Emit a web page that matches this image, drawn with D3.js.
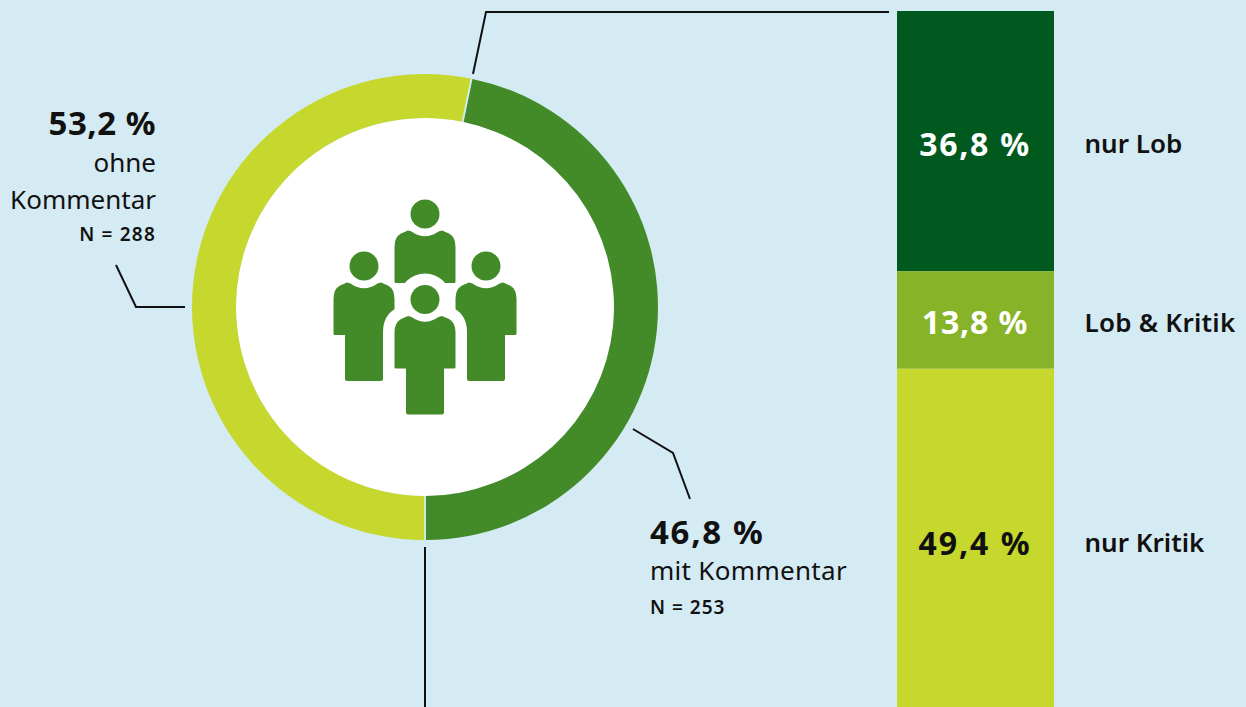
<!DOCTYPE html>
<html>
<head>
<meta charset="utf-8">
<script src="https://cdn.jsdelivr.net/npm/d3@7"></script>
<style>
  html, body { margin: 0; padding: 0; background: #d5ebf4; overflow: hidden; }
  svg { display: block; }
  text { font-family: "Noto Sans", sans-serif; fill: #111; }
</style>
</head>
<body>
<div class="chart"></div>
<script>
// ring: clockwise from the bottom
var ringKeys = ["ohne Kommentar", "mit Kommentar"];
var ringValues = [53.2, 46.8];
var ringCounts = [288, 253];

// stacked bar: top to bottom
var stackKeys = ["nur Lob", "Lob & Kritik", "nur Kritik"];
var stackValues = [36.8, 13.8, 49.4];

var svgWidth = 1246;
var svgHeight = 707;

var ringColors = ["#c6d72e", "#438b28"];
var stackColors = ["#005a20", "#86b327", "#c6d72e"];
var stackTextColors = ["#fff", "#fff", "#111"];
var lineColor = "#111";

var svg = d3.select(".chart")
    .append("svg")
    .attr("width", svgWidth)
    .attr("height", svgHeight);

var de = d3.formatLocale({ decimal: ",", thousands: ".", grouping: [3], currency: ["", " €"] });
var pct = function(v) { return de.format(".1f")(v) + " %"; };

// ---- ring
var cx = 425, cy = 307;

var ringGroup = svg.append("g")
    .attr("transform", `translate(${cx}, ${cy})`);

var pie = d3.pie()
    .sort(null)
    .startAngle(Math.PI)
    .endAngle(3 * Math.PI);

var arc = d3.arc()
    .innerRadius(189)
    .outerRadius(233)
    .padAngle(0.008)
    .padRadius(233);

ringGroup.append("circle")
    .attr("r", 189)
    .attr("fill", "#fff");

ringGroup.selectAll("path")
    .data(pie(ringValues))
    .enter()
    .append("path")
    .attr("d", arc)
    .attr("fill", (d, i) => ringColors[i]);

// ---- people icon, coordinates are relative to the head centre
var personPath = "M-13.5,17.5 Q0,27 13.5,17.5 L17,16.5 L24,19.5 Q30.5,23 30.5,33 L30.5,67.5 Q30.5,69 29,69 L19,69 L19,113 Q19,115 17,115 L-17,115 Q-19,115 -19,113 L-19,69 L-29,69 Q-30.5,69 -30.5,67.5 L-30.5,33 Q-30.5,23 -24,19.5 L-17,16.5 Z";

function person(x, y) {
    var g = svg.append("g")
        .attr("transform", `translate(${x}, ${y})`)
        .attr("fill", "#438b28");
    g.append("circle").attr("r", 14.5);
    g.append("path").attr("d", personPath);
    return g;
}

person(425, 214);
person(364, 266);
person(486, 266);

// white halo that cuts the front figure out of the ones behind it
var halo = svg.append("g")
    .attr("transform", "translate(425, 299.5)")
    .attr("fill", "#fff");
halo.append("circle").attr("r", 26);
halo.append("path")
    .attr("d", personPath)
    .attr("stroke", "#fff")
    .attr("stroke-width", 23)
    .attr("stroke-linejoin", "round");

person(425, 299.5);

// ---- stacked bar
var stackY = d3.scaleLinear()
    .domain([0, 100])
    .range([11, 718]);

var stackData = [];
stackValues.forEach(function(v, i) {
    var start = d3.sum(stackValues.slice(0, i));
    stackData.push({ key: stackKeys[i], value: v, y0: start, y1: start + v });
});

var barX = 897, barWidth = 157;

svg.selectAll("rect.stack")
    .data(stackData)
    .enter()
    .append("rect")
    .attr("class", "stack")
    .attr("x", barX)
    .attr("width", barWidth)
    .attr("y", d => stackY(d.y0))
    .attr("height", d => stackY(d.y1) - stackY(d.y0))
    .attr("fill", (d, i) => stackColors[i]);

var valueBaselines = [156, 334, 555];
var valueSpacing = [1.7, 0.9, 2];
var keyBaselines = [153, 332, 552];
var keySpacing = [0, 0.25, 0];

svg.selectAll("text.stackValue")
    .data(stackData)
    .enter()
    .append("text")
    .attr("class", "stackValue")
    .attr("x", barX + barWidth / 2 - 0.5)
    .attr("y", (d, i) => valueBaselines[i])
    .attr("text-anchor", "middle")
    .attr("font-size", 32)
    .attr("font-weight", 700)
    .attr("letter-spacing", (d, i) => valueSpacing[i])
    .style("fill", (d, i) => stackTextColors[i])
    .text(d => pct(d.value));

svg.selectAll("text.stackKey")
    .data(stackData)
    .enter()
    .append("text")
    .attr("class", "stackKey")
    .attr("x", 1084.5)
    .attr("y", (d, i) => keyBaselines[i])
    .attr("font-size", 26)
    .attr("font-weight", 600)
    .attr("letter-spacing", (d, i) => keySpacing[i])
    .text(d => d.key);

// ---- ring labels
function label(x, y, size, weight, anchor, txt, spacing) {
    svg.append("text")
        .attr("x", x)
        .attr("y", y)
        .attr("font-size", size)
        .attr("font-weight", weight)
        .attr("text-anchor", anchor)
        .attr("letter-spacing", spacing)
        .text(txt);
}

label(156, 135, 33, 700, "end", pct(ringValues[0]), 0.5);
label(156, 172, 26, 400, "end", "ohne", 0);
label(156, 209, 26, 400, "end", "Kommentar", 0);
label(156, 241, 19, 600, "end", "N = " + ringCounts[0], 1.2);

label(650, 544, 33, 700, "start", pct(ringValues[1]), 1.7);
label(650, 580, 26, 400, "start", ringKeys[1], 0.3);
label(650, 614, 19, 600, "start", "N = " + ringCounts[1], 1);

// ---- leader lines
var leaders = [
    [[473, 74], [486, 12], [889, 12]],
    [[116, 265], [136, 307], [185, 307]],
    [[633, 429], [673, 453], [690, 499]],
    [[425, 547], [425, 707]]
];

svg.selectAll("path.leader")
    .data(leaders)
    .enter()
    .append("path")
    .attr("class", "leader")
    .attr("d", d3.line())
    .attr("fill", "none")
    .attr("stroke", lineColor)
    .attr("stroke-width", 2);
</script>
</body>
</html>
